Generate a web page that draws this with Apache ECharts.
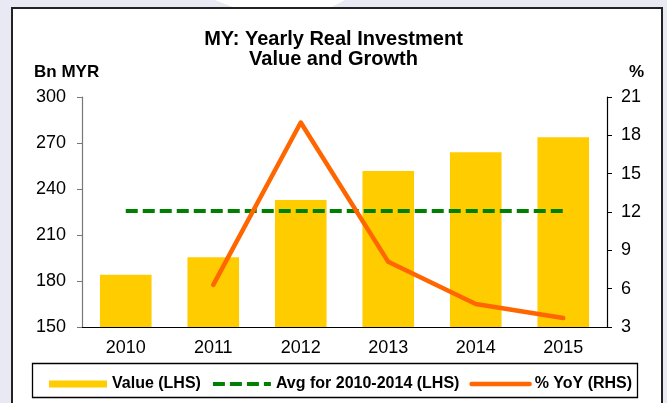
<!DOCTYPE html>
<html>
<head>
<meta charset="utf-8">
<script src="https://cdn.jsdelivr.net/npm/echarts@6/dist/echarts.min.js"></script>
<style>
  html, body { margin: 0; padding: 0; background: #fff; }
  #chart { width: 667px; height: 403px; }
</style>
</head>
<body>
<div id="chart"></div>
<script>
// data
let years = ['2010', '2011', '2012', '2013', '2014', '2015']
let value = [184, 195.5, 232.8, 251.7, 264, 273.7]
let avg = [225.6, 225.6, 225.6, 225.6, 225.6, 225.6]
let yoy = [null, 6.3, 19.0, 8.1, 4.8, 3.7]

let font = 'Arial, "Liberation Sans", sans-serif'

let myChart = echarts.init(document.getElementById('chart'))

let opt = {
  animation: false,
  textStyle: { fontFamily: font, color: '#000' },
  // frame, legend box, watermark
  graphic: [
    { type: 'rect', z: -10, shape: { x: 0, y: 0, width: 667, height: 403 }, style: { fill: '#e9e9f3' } },
    { type: 'polygon', z: -9, shape: { points: [[215, 0], [345, 0], [330, 8], [235, 8]] }, style: { fill: '#ffffff' } },
    { type: 'rect', z: -8, shape: { x: 12, y: 8, width: 650, height: 410 }, style: { fill: '#fff', stroke: '#222', lineWidth: 2 } },
    { type: 'rect', z: -7, shape: { x: 32.5, y: 363.5, width: 605, height: 34 }, style: { fill: '#fff', stroke: '#000', lineWidth: 1.3 } },
    { type: 'text', left: 34, top: 64, style: { text: 'Bn MYR', font: 'bold 17px ' + font, fill: '#000' } },
    { type: 'text', left: 629, top: 64, style: { text: '%', font: 'bold 17px ' + font, fill: '#000' } }
  ],
  title: {
    text: 'MY: Yearly Real Investment\nValue and Growth',
    left: 'center',
    top: 24,
    textStyle: { fontFamily: font, fontSize: 20, fontWeight: 'bold', lineHeight: 20, color: '#000' }
  },
  legend: {
    left: 44,
    top: 371,
    itemWidth: 58,
    itemHeight: 7,
    itemGap: 10,
    textStyle: { fontFamily: font, fontSize: 16, fontWeight: 'bold', color: '#000' },
    data: [
      { name: 'Value (LHS)', icon: 'rect' },
      { name: 'Avg for 2010-2014 (LHS)', itemStyle: { opacity: 0 }, lineStyle: { width: 4 } },
      { name: '% YoY (RHS)', itemStyle: { opacity: 0 }, lineStyle: { width: 4.5 } }
    ]
  },
  grid: { left: 82, right: 60, top: 97, bottom: 76 },
  xAxis: {
    type: 'category',
    data: years,
    axisLine: { lineStyle: { color: '#000', width: 1.2 } },
    axisTick: { length: 5, lineStyle: { color: '#000' } },
    axisLabel: { fontSize: 18, color: '#000', margin: 12 }
  },
  yAxis: [
    {
      type: 'value',
      min: 150, max: 300, interval: 30,
      splitLine: { show: false },
      axisLine: { show: true, lineStyle: { color: '#777', width: 1.2 } },
      axisTick: { show: true, length: 5, lineStyle: { color: '#777' } },
      axisLabel: { fontSize: 18, color: '#000', margin: 16 }
    },
    {
      type: 'value',
      min: 3, max: 21, interval: 3,
      splitLine: { show: false },
      axisLine: { show: true, lineStyle: { color: '#000', width: 1.2 } },
      axisTick: { show: true, length: 5, lineStyle: { color: '#000' } },
      axisLabel: { fontSize: 18, color: '#000', margin: 14 }
    }
  ],
  series: [
    {
      name: 'Value (LHS)',
      type: 'bar',
      data: value,
      barWidth: '59%',
      itemStyle: { color: '#ffcc00' }
    },
    {
      name: 'Avg for 2010-2014 (LHS)',
      type: 'line',
      data: avg,
      symbol: 'none',
      itemStyle: { color: '#008000' },
      lineStyle: { color: '#008000', width: 4, type: [12, 5] }
    },
    {
      name: '% YoY (RHS)',
      type: 'line',
      yAxisIndex: 1,
      data: yoy,
      symbol: 'none',
      itemStyle: { color: '#ff6600' },
      lineStyle: { color: '#ff6600', width: 4.5, cap: 'round', join: 'round' }
    }
  ]
}

myChart.setOption(opt)
</script>
</body>
</html>
